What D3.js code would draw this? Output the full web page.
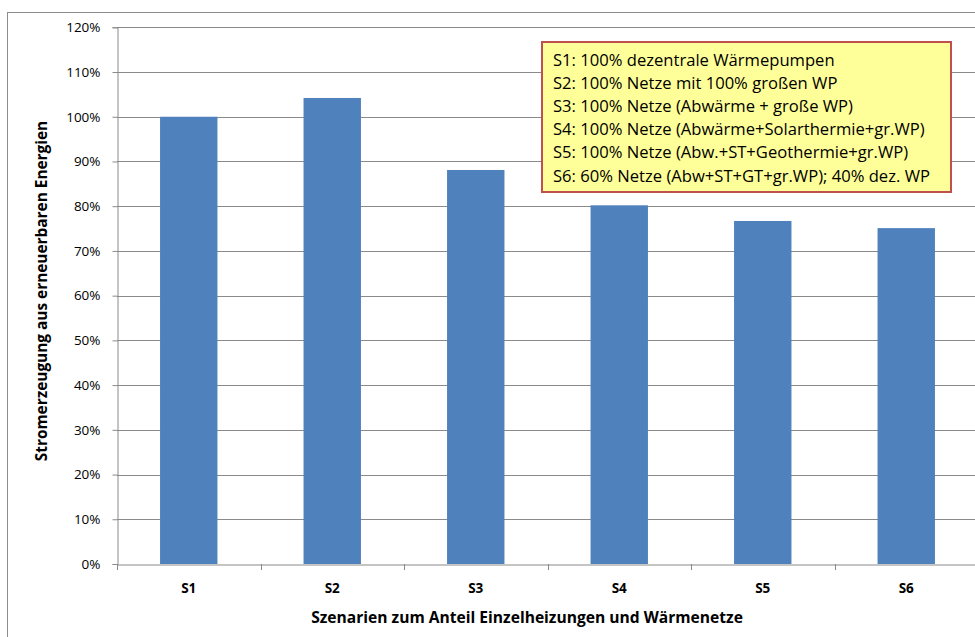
<!DOCTYPE html>
<html><head><meta charset="utf-8">
<script src="https://cdn.jsdelivr.net/npm/d3@7"></script>
<style>body{margin:0;background:#fff;} svg{display:block;}</style>
</head><body>
<svg id="c" width="975" height="637"></svg>
<script>
const categories = ["S1","S2","S3","S4","S5","S6"];
const values = [1.00, 1.042, 0.881, 0.802, 0.767, 0.751];
const yTicks = [0,0.1,0.2,0.3,0.4,0.5,0.6,0.7,0.8,0.9,1.0,1.1,1.2];
const legendLines = [
  "S1: 100% dezentrale Wärmepumpen",
  "S2: 100% Netze mit 100% großen WP",
  "S3: 100% Netze (Abwärme + große WP)",
  "S4: 100% Netze (Abwärme+Solarthermie+gr.WP)",
  "S5: 100% Netze (Abw.+ST+Geothermie+gr.WP)",
  "S6: 60% Netze (Abw+ST+GT+gr.WP); 40% dez. WP"
];
const yTitle = "Stromerzeugung aus erneuerbaren Energien";
const xTitle = "Szenarien zum Anteil Einzelheizungen und Wärmenetze";

const font = "'Open Sans', Lato, sans-serif";
const svg = d3.select("#c");
const x0 = 117, x1 = 978, yTop = 27.3, yBot = 564;
const x = d3.scaleBand().domain(categories).range([x0, x1]).paddingInner(0.6).paddingOuter(0.3);
const y = d3.scaleLinear().domain([0, 1.2]).range([yBot, yTop]);

// outer border
svg.append("rect").attr("x",7.5).attr("y",12.5).attr("width",1000).attr("height",700)
  .attr("fill","none").attr("stroke","#8c8c8c").attr("stroke-width",1);

// gridlines
svg.append("g").selectAll("line").data(yTicks.filter(d=>d>0)).join("line")
  .attr("x1",x0).attr("x2",x1).attr("y1",d=>Math.round(y(d))+0.5).attr("y2",d=>Math.round(y(d))+0.5)
  .attr("stroke","#8a8a8a").attr("stroke-width",1);

// bars
svg.append("g").selectAll("rect").data(values).join("rect")
  .attr("x",(d,i)=>x(categories[i])).attr("width",x.bandwidth())
  .attr("y",d=>y(d)).attr("height",d=>yBot-y(d))
  .attr("fill","#4f81bd");

// y axis
const yAxis = d3.axisLeft(y).tickValues(yTicks).tickFormat(d3.format(".0%")).tickSizeOuter(0).tickSize(5).tickPadding(12);
const gy = svg.append("g").attr("transform",`translate(${x0+0.5},0)`).call(yAxis);
gy.select(".domain").attr("stroke","#8a8a8a");
gy.selectAll(".tick line").attr("stroke","#8a8a8a");
gy.selectAll("text").attr("font-family",font).attr("font-size",13.5).attr("fill","#000");

// x axis
const xAxis = d3.axisBottom(x).tickSize(0).tickPadding(19).tickSizeOuter(0);
const gx = svg.append("g").attr("transform",`translate(0,${yBot+0.5})`).call(xAxis);
gx.select(".domain").attr("stroke","#8a8a8a");
gx.selectAll("text").attr("font-family",font).attr("font-size",13.5).attr("font-weight","bold").attr("fill","#000");
// category boundary ticks
const bounds = d3.range(categories.length+1).map(i=>x0 + i*(x1-x0)/categories.length);
svg.append("g").selectAll("line").data(bounds).join("line")
  .attr("x1",d=>Math.round(d)+0.5).attr("x2",d=>Math.round(d)+0.5)
  .attr("y1",yBot).attr("y2",yBot+6).attr("stroke","#8a8a8a");

// axis titles
svg.append("text").attr("x",527).attr("y",623).attr("text-anchor","middle")
  .attr("font-family",font).attr("font-size",15.6).attr("font-weight","bold").text(xTitle);
svg.append("text").attr("transform","translate(47,291) rotate(-90)").attr("text-anchor","middle")
  .attr("font-family",font).attr("font-size",15.4).attr("font-weight","bold").text(yTitle);

// legend box
const lg = svg.append("g");
lg.append("rect").attr("x",542).attr("y",42).attr("width",409).attr("height",150)
  .attr("fill","#ffff99").attr("stroke","#c0504d").attr("stroke-width",2);
lg.selectAll("text").data(legendLines).join("text")
  .attr("x",553).attr("y",(d,i)=>65.5+i*23.2)
  .attr("font-family",font).attr("font-size",16.6).attr("fill","#000").text(d=>d);
</script>
</body></html>
